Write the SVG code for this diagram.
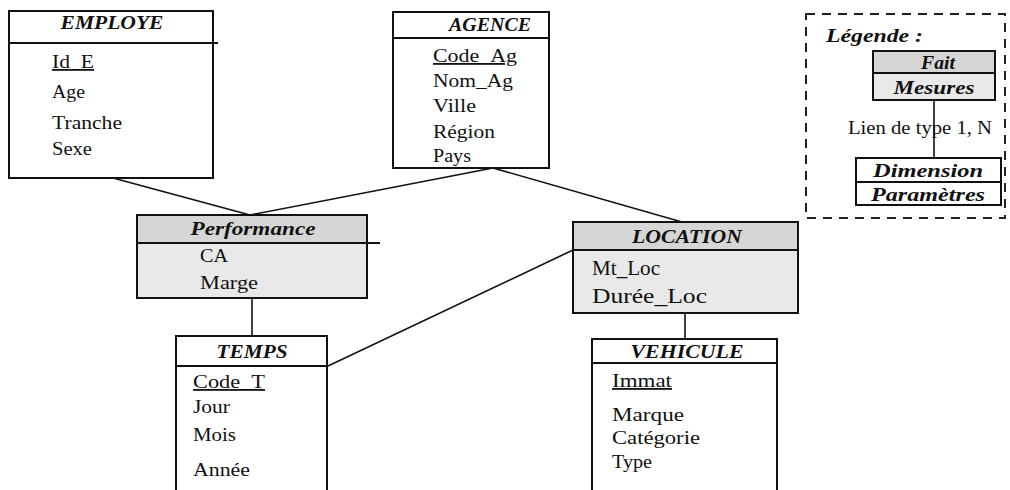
<svg xmlns="http://www.w3.org/2000/svg" width="1010" height="490" viewBox="0 0 1010 490">
  <style>
    .box { fill: #ffffff; stroke: #111111; stroke-width: 2; }
    .fact-head { fill: #d6d6d6; stroke: #111111; stroke-width: 2; }
    .fact-body { fill: #e9e9e9; stroke: #111111; stroke-width: 2; }
    .sep { stroke: #111111; stroke-width: 2; }
    .link { stroke: #111111; stroke-width: 1.6; fill: none; }
    .title { font-family: "Liberation Serif", "Times New Roman", serif; font-style: italic; font-weight: bold; font-size: 18px; fill: #111111; text-anchor: middle; }
    .attr { font-family: "Liberation Serif", "Times New Roman", serif; font-size: 18px; fill: #111111; }
    .key { text-decoration: underline; }
    .legend-frame { fill: none; stroke: #222222; stroke-width: 2; stroke-dasharray: 9 7; }
  </style>

  <rect width="1010" height="490" fill="#ffffff"/>

  <!-- connectors -->
  <g id="connectors">
    <line class="link" x1="113" y1="178" x2="250" y2="215"/>
    <line class="link" x1="493" y1="168" x2="250" y2="215"/>
    <line class="link" x1="493" y1="168" x2="682" y2="222"/>
    <line class="link" x1="328" y1="366" x2="573" y2="250"/>
    <line class="link" x1="252" y1="298" x2="252" y2="336"/>
    <line class="link" x1="685" y1="313" x2="685" y2="339"/>
  </g>

  <!-- dimension: EMPLOYE -->
  <g id="employe">
    <rect class="box" x="9" y="11" width="204" height="167"/>
    <line class="sep" x1="9" y1="43" x2="218" y2="43"/>
    <text class="title" x="112" y="29" textLength="103" lengthAdjust="spacingAndGlyphs">EMPLOYE</text>
    <text class="attr key" x="52" y="68" textLength="42" lengthAdjust="spacingAndGlyphs">Id_E</text>
    <text class="attr" x="52" y="98" textLength="33" lengthAdjust="spacingAndGlyphs">Age</text>
    <text class="attr" x="52" y="129" textLength="70" lengthAdjust="spacingAndGlyphs">Tranche</text>
    <text class="attr" x="52" y="155" textLength="40" lengthAdjust="spacingAndGlyphs">Sexe</text>
  </g>

  <!-- dimension: AGENCE -->
  <g id="agence">
    <rect class="box" x="393" y="12" width="156" height="156"/>
    <line class="sep" x1="393" y1="38" x2="549" y2="38"/>
    <text class="title" x="490" y="31" textLength="82" lengthAdjust="spacingAndGlyphs">AGENCE</text>
    <text class="attr key" x="433" y="62" textLength="84" lengthAdjust="spacingAndGlyphs">Code_Ag</text>
    <text class="attr" x="433" y="87" textLength="80" lengthAdjust="spacingAndGlyphs">Nom_Ag</text>
    <text class="attr" x="433" y="112" textLength="43" lengthAdjust="spacingAndGlyphs">Ville</text>
    <text class="attr" x="433" y="138" textLength="62" lengthAdjust="spacingAndGlyphs">Région</text>
    <text class="attr" x="433" y="162" textLength="38" lengthAdjust="spacingAndGlyphs">Pays</text>
  </g>

  <!-- fact: Performance -->
  <g id="performance">
    <rect class="fact-body" x="137" y="215" width="230" height="83"/>
    <rect class="fact-head" x="137" y="215" width="230" height="28"/>
    <line class="sep" x1="137" y1="243" x2="380" y2="243"/>
    <text class="title" x="253" y="235" textLength="125" lengthAdjust="spacingAndGlyphs">Performance</text>
    <text class="attr" x="200" y="262" textLength="28" lengthAdjust="spacingAndGlyphs">CA</text>
    <text class="attr" x="200" y="289" textLength="58" lengthAdjust="spacingAndGlyphs">Marge</text>
  </g>

  <!-- fact: LOCATION -->
  <g id="location">
    <rect class="fact-body" x="573" y="222" width="225" height="91"/>
    <rect class="fact-head" x="573" y="222" width="225" height="28"/>
    <text class="title" x="687" y="243" textLength="110" lengthAdjust="spacingAndGlyphs">LOCATION</text>
    <text class="attr" x="592" y="275" style="font-size:20px" textLength="68" lengthAdjust="spacingAndGlyphs">Mt_Loc</text>
    <text class="attr" x="592" y="303" style="font-size:20px" textLength="115" lengthAdjust="spacingAndGlyphs">Durée_Loc</text>
  </g>

  <!-- dimension: TEMPS -->
  <g id="temps">
    <rect class="box" x="176" y="336" width="151" height="160"/>
    <line class="sep" x1="176" y1="366" x2="327" y2="366"/>
    <text class="title" x="252" y="358" textLength="71" lengthAdjust="spacingAndGlyphs">TEMPS</text>
    <text class="attr key" x="193" y="388" textLength="72" lengthAdjust="spacingAndGlyphs">Code_T</text>
    <text class="attr" x="193" y="413" textLength="37" lengthAdjust="spacingAndGlyphs">Jour</text>
    <text class="attr" x="193" y="441" textLength="43" lengthAdjust="spacingAndGlyphs">Mois</text>
    <text class="attr" x="193" y="476" textLength="57" lengthAdjust="spacingAndGlyphs">Année</text>
  </g>

  <!-- dimension: VEHICULE -->
  <g id="vehicule">
    <rect class="box" x="592" y="339" width="185" height="157"/>
    <line class="sep" x1="592" y1="363" x2="777" y2="363"/>
    <text class="title" x="687" y="358" textLength="113" lengthAdjust="spacingAndGlyphs">VEHICULE</text>
    <text class="attr key" x="612" y="387" textLength="60" lengthAdjust="spacingAndGlyphs">Immat</text>
    <text class="attr" x="612" y="421" textLength="72" lengthAdjust="spacingAndGlyphs">Marque</text>
    <text class="attr" x="612" y="444" textLength="88" lengthAdjust="spacingAndGlyphs">Catégorie</text>
    <text class="attr" x="612" y="468" textLength="40" lengthAdjust="spacingAndGlyphs">Type</text>
  </g>

  <!-- legend -->
  <g id="legende">
    <rect class="legend-frame" x="806" y="14" width="199" height="204"/>
    <text class="title" x="826" y="42" style="text-anchor:start" textLength="97" lengthAdjust="spacingAndGlyphs">Légende :</text>
    <line class="link" x1="934" y1="100" x2="934" y2="158"/>
    <rect class="fact-body" x="873" y="51" width="122" height="49"/>
    <rect class="fact-head" x="873" y="51" width="122" height="22"/>
    <text class="title" x="938" y="69" textLength="34" lengthAdjust="spacingAndGlyphs">Fait</text>
    <text class="title" x="934" y="94" textLength="81" lengthAdjust="spacingAndGlyphs">Mesures</text>
    <text class="attr" x="848" y="134" textLength="144" lengthAdjust="spacingAndGlyphs">Lien de type 1, N</text>
    <rect class="box" x="856" y="158" width="145" height="47"/>
    <line class="sep" x1="856" y1="182" x2="1001" y2="182"/>
    <text class="title" x="928" y="177" textLength="110" lengthAdjust="spacingAndGlyphs">Dimension</text>
    <text class="title" x="928" y="201" textLength="114" lengthAdjust="spacingAndGlyphs">Paramètres</text>
  </g>
</svg>
